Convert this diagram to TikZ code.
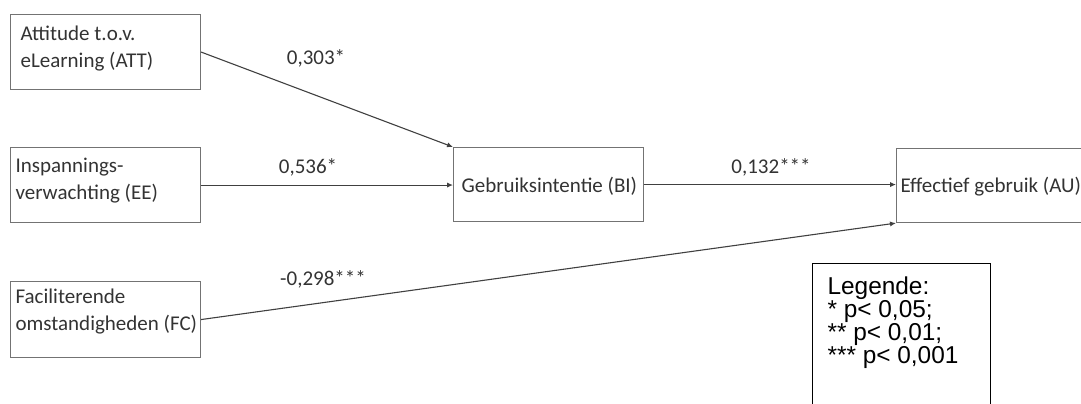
\documentclass[tikz,border=0pt]{standalone}
\usepackage{fontspec}
\setmainfont{Carlito}
\newfontfamily\legendfont{Liberation Sans}
\usetikzlibrary{arrows.meta,positioning}

\begin{document}
\begin{tikzpicture}[
        x=0.5pt, y=-0.5pt,
        every node/.style={inner sep=0pt, text=black!80},
        every path/.style={line width=0.55pt},
        box/.style={draw=black!55, anchor=north west, minimum height=37.5pt},
        boxtext/.style={anchor=base west, align=left, font=\fontsize{10.5}{13.5}\selectfont},
        weight/.style={anchor=base, font=\fontsize{10.5}{13.5}\selectfont},
        conn/.style={draw=black!75, -{Latex[length=3pt,width=2.6pt]}}
    ]
    \useasboundingbox (0,0) rectangle (1081,403);

    % Nodes
    \node[box, minimum width=95pt] (att) at (10,14) {};
    \node[boxtext] (att-text) at ([xshift=5pt,yshift=-26.5pt]att.north west) {Attitude t.o.v.\\eLearning (ATT)};

    \node[box, minimum width=95pt] (ee) at (10,147) {};
    \node[boxtext] (ee-text) at ([xshift=2.5pt,yshift=-26pt]ee.north west) {Inspannings-\\verwachting (EE)};

    \node[box, minimum width=95pt, minimum height=38pt] (fc) at (10,281) {};
    \node[boxtext] (fc-text) at ([xshift=2.5pt,yshift=-24.5pt]fc.north west) {Faciliterende\\omstandigheden (FC)};

    \node[box, minimum width=95pt, minimum height=37pt] (bi) at (453,147) {};
    \node[boxtext] (bi-text) at ([xshift=4pt,yshift=-22.5pt]bi.north west) {Gebruiksintentie (BI)};

    \node[box, minimum width=110pt, minimum height=37pt] (au) at (896,148) {};
    \node[boxtext] (au-text) at ([xshift=2pt,yshift=-22pt]au.north west) {Effectief gebruik (AU)};

    \node[draw=black, line width=0.7pt, anchor=north west, minimum width=89pt, minimum height=90pt] (legend) at (812,263) {};
    \node[anchor=base west, align=left, text=black, font=\legendfont\fontsize{12.2}{11.35}\selectfont] (legend-text)
        at ([xshift=7.5pt,yshift=-50pt]legend.north west) {Legende:\\* p< 0,05;\\** p< 0,01;\\*** p< 0,001};

    % path weights
    \node[weight] (w-att) at (316,64) {0,303*};
    \node[weight] (w-ee) at (308,173) {0,536*};
    \node[weight] (w-fc) at (323,285) {-0,298***};
    \node[weight] (w-bi) at (771,173) {0,132***};

    % Edges
    \draw[conn] (att.east) -- (bi.north west);
    \draw[conn] (ee.east) -- (ee.east -| bi.west);
    \draw[conn] (bi.east) -- (bi.east -| au.west);
    \draw[conn] (fc.east) -- (au.south west);

\end{tikzpicture}
\end{document}
